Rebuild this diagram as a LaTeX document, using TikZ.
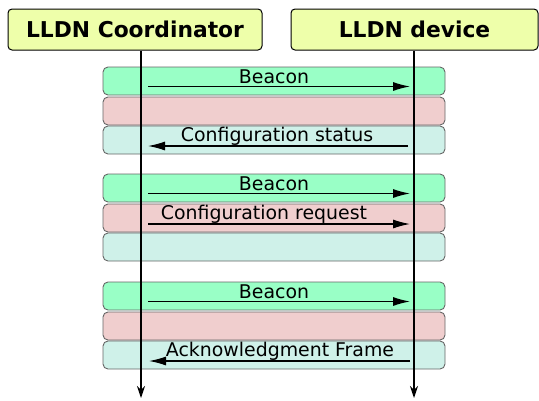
\documentclass[tikz,border=0pt]{standalone}
\usepackage{fontspec}
\setmainfont{DejaVu Sans}
\usetikzlibrary{arrows.meta}
\definecolor{hdrfill}{HTML}{EEFFAA}
\definecolor{beaconfill}{HTML}{99FFC6}
\definecolor{upfill}{HTML}{F0CECE}
\definecolor{downfill}{HTML}{CFF1E9}
\tikzset{
  hdr/.style={draw, rounded corners=4pt, fill=hdrfill, line width=1pt,
    minimum height=41pt, font=\bfseries\fontsize{21.8}{24}\selectfont},
  band/.style={draw=black!60, rounded corners=5pt, line width=0.9pt,
    minimum width=342pt, minimum height=28pt, inner sep=0pt},
  life/.style={line width=1.3pt, -{Stealth[length=12pt,width=8pt]}},
  msg/.style={line width=1.2pt, -{Latex[length=17pt,width=9pt]}},
  lbl/.style={font=\fontsize{18.9}{21}\selectfont, inner sep=0pt, anchor=base}
}
\begin{document}
\begin{tikzpicture}[x=1pt,y=-1pt]
  \useasboundingbox (0,0) rectangle (539,400);

  % time slots
  \foreach \g/\t in {1/67,2/174,3/282} {
    \node[band, fill=beaconfill] (b\g) at (274,\t+14) {};
    \node[band, fill=upfill] (u\g) at (274,\t+44) {};
    \node[band, fill=downfill] (d\g) at (274,\t+73) {};
  }

  % participants
  \node[hdr, minimum width=254pt] (coord) at (135,29.5) {LLDN Coordinator};
  \node[hdr, minimum width=247pt] (dev) at (414.5,29.5) {LLDN device};
  \coordinate (cl) at (141,398);
  \coordinate (dl) at (414,398);
  \draw[life] (coord.south -| cl) -- (cl);
  \draw[life] (dev.south -| dl) -- (dl);

  % beacons
  \foreach \g/\t in {1/67,2/174,3/282} {
    \coordinate (bs\g) at (148,\t+19.5);
    \coordinate (be\g) at (410,\t+19.5);
    \draw[msg] (bs\g) -- (be\g);
    \node[lbl] (bl\g) at (274,\t+16.5) {Beacon};
  }

  % other frames
  \coordinate (ss) at (408,146);
  \coordinate (se) at (148,146);
  \draw[msg] (ss) -- (se);
  \node[lbl] (sl) at (277,141.7) {Configuration status};

  \coordinate (rs) at (148,224);
  \coordinate (re) at (410,224);
  \draw[msg] (rs) -- (re);
  \node[lbl] (rl) at (264,219.3) {Configuration request};

  \coordinate (as) at (410,361);
  \coordinate (ae) at (149,361);
  \draw[msg] (as) -- (ae);
  \node[lbl] (al) at (280,356.7) {Acknowledgment Frame};
\end{tikzpicture}
\end{document}
